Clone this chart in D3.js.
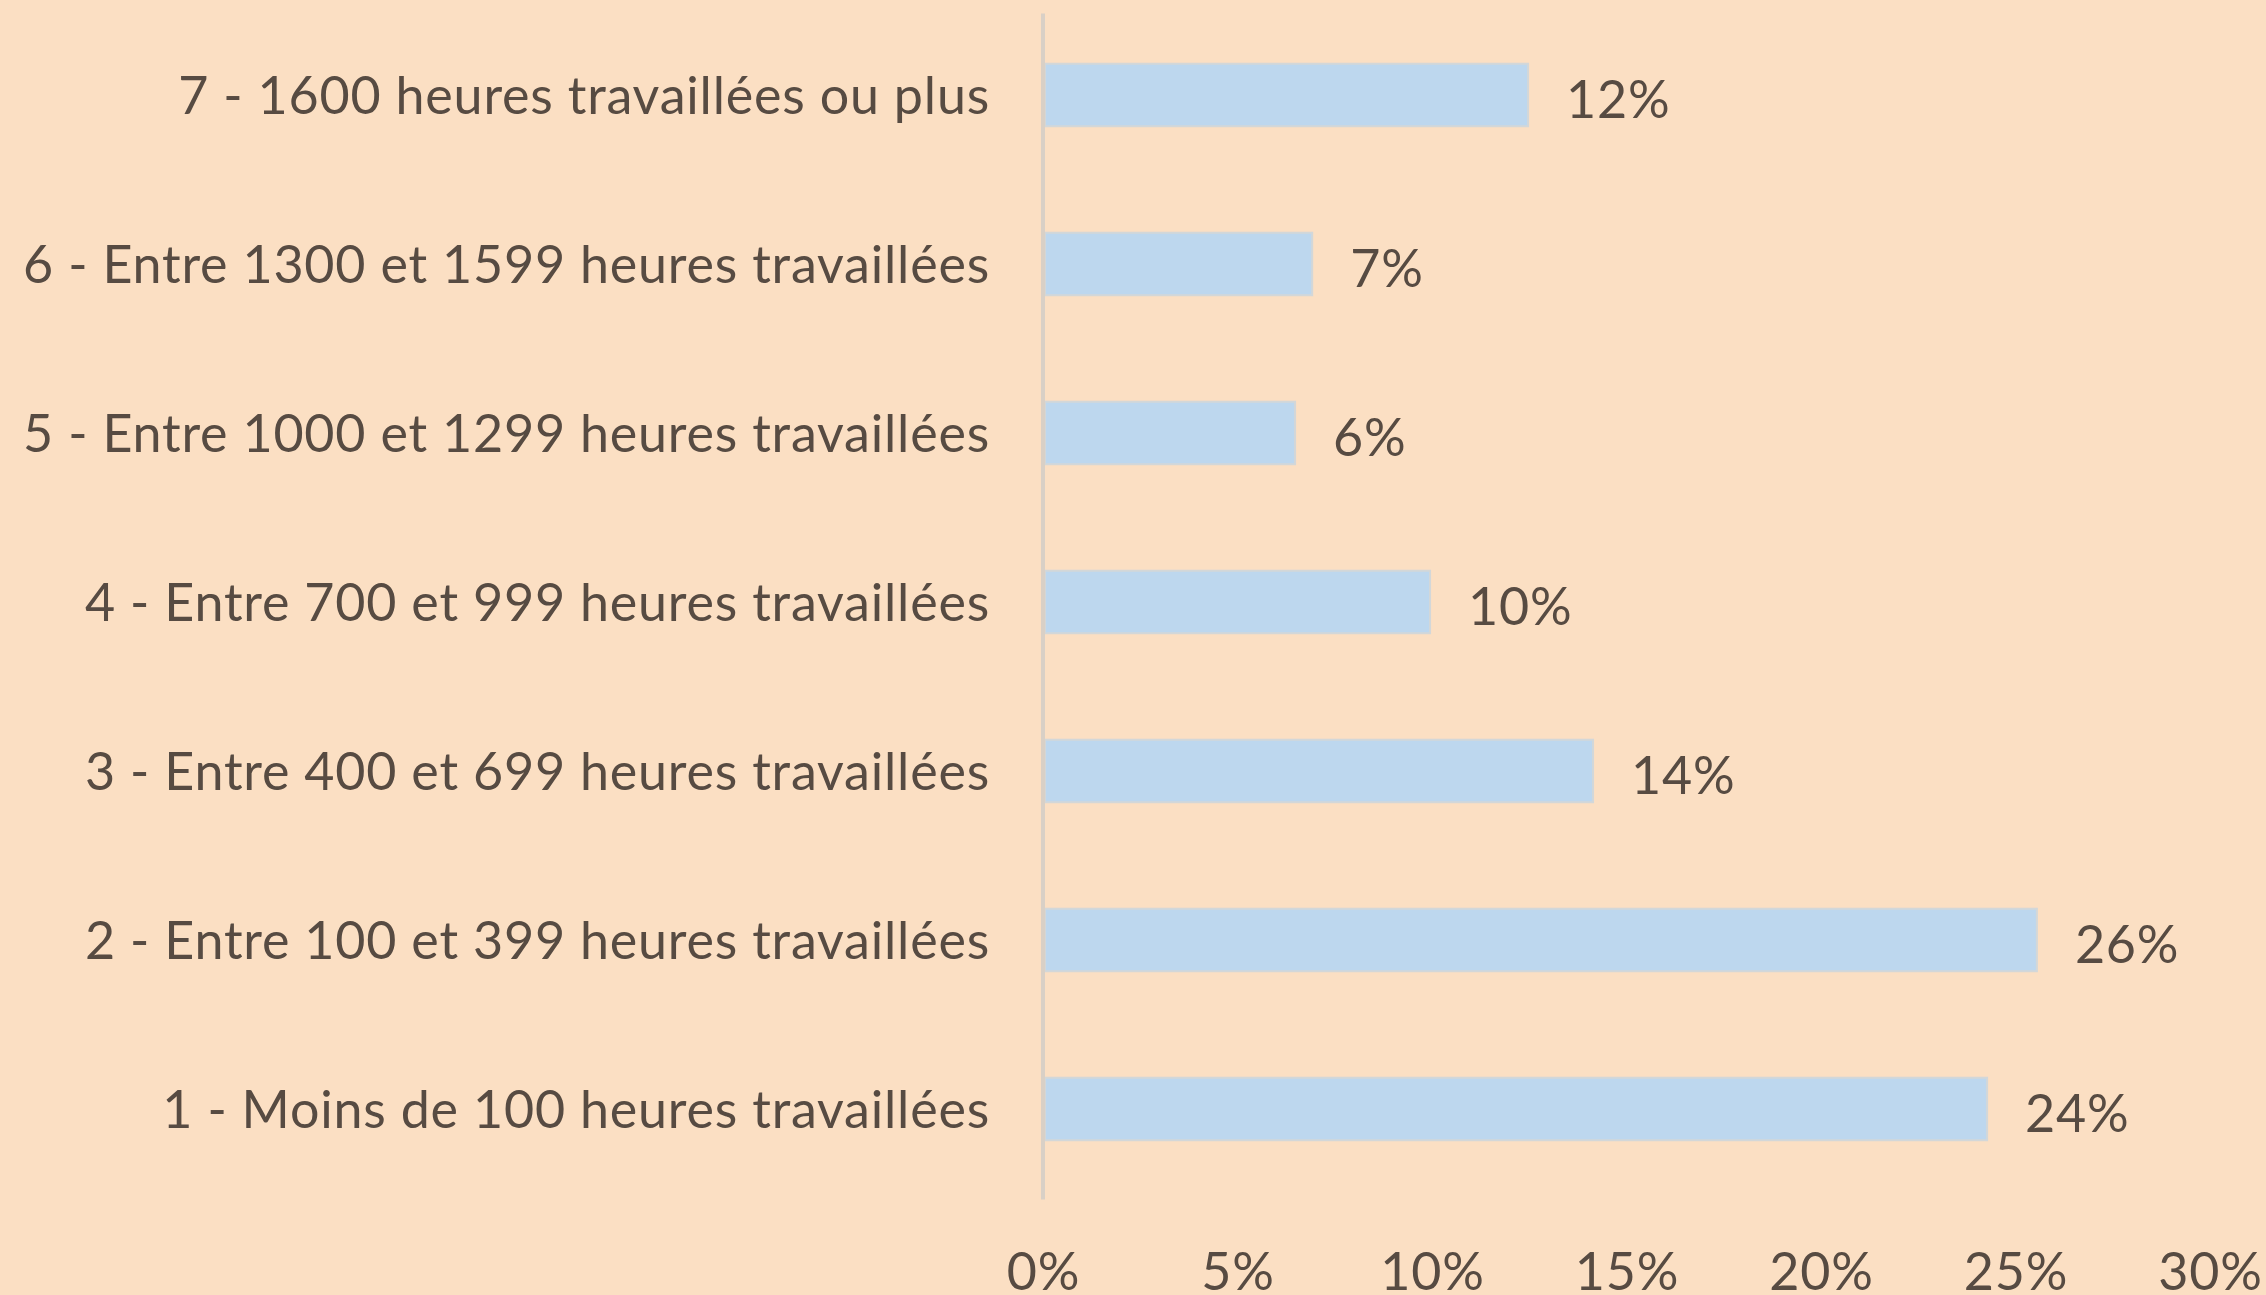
<!DOCTYPE html>
<html>
  <head>
    <meta charset="utf-8">
    <title>Heures travaillées</title>
    <script src="https://cdn.jsdelivr.net/npm/d3@7"></script>
    <style>
      body { margin: 0; background: #fbdfc3; }
      svg { display: block; }
      .label, .value, .axis text {
        font-family: Lato, 'Open Sans', sans-serif;
        fill: #574b42;
        letter-spacing: 0.8px;
      }
      .bars rect {
        fill: #bdd7ee;
        stroke: #d3d7d8;
        stroke-width: 2;
      }
      .axis path, .axis line { stroke: none; }
    </style>
  </head>
  <body>
    <script>

      var categories = [
        "7 - 1600 heures travaillées ou plus",
        "6 - Entre 1300 et 1599 heures travaillées",
        "5 - Entre 1000 et 1299 heures travaillées",
        "4 - Entre 700 et 999 heures travaillées",
        "3 - Entre 400 et 699 heures travaillées",
        "2 - Entre 100 et 399 heures travaillées",
        "1 - Moins de 100 heures travaillées"
      ];
      var shares = [0.1247, 0.0692, 0.0648, 0.0995, 0.1414, 0.2555, 0.2427];
      var tickValues = [0, 0.05, 0.10, 0.15, 0.20, 0.25, 0.30];

      var width = 2266;
      var height = 1295;
      var fontSize = 52;

      var svg = d3.select("body").append("svg")
        .attr("width", width)
        .attr("height", height);

      var xScale = d3.scaleLinear()
        .domain([0, 0.30])
        .range([1043, 2210]);

      var yScale = d3.scaleBand()
        .domain(categories)
        .range([10.5, 1193.5])
        .paddingInner(0.63)
        .paddingOuter(0.315);

      var data = categories.map(function(c, i) { return { cat: c, v: shares[i] }; });

      // category labels
      svg.append("g").selectAll("text")
        .data(data)
        .enter().append("text")
        .attr("class", "label")
        .attr("x", 990)
        .attr("y", function(d) { return yScale(d.cat) + yScale.bandwidth() / 2; })
        .attr("dy", "0.36em")
        .attr("text-anchor", "end")
        .style("font-size", fontSize + "px")
        .text(function(d) { return d.cat; });

      // bars
      svg.append("g").attr("class", "bars").selectAll("rect")
        .data(data)
        .enter().append("rect")
        .attr("x", xScale(0) + 2)
        .attr("y", function(d) { return yScale(d.cat); })
        .attr("height", yScale.bandwidth())
        .attr("width", function(d) { return xScale(d.v) - xScale(0) - 2; });

      // vertical axis line
      svg.append("line")
        .attr("x1", xScale(0)).attr("x2", xScale(0))
        .attr("y1", yScale.range()[0] + 3)
        .attr("y2", yScale.range()[1] + 6)
        .attr("stroke", "#d9d0c6")
        .attr("stroke-width", 4);

      // value labels
      var pct = d3.format(".0%");
      svg.append("g").selectAll("text")
        .data(data)
        .enter().append("text")
        .attr("class", "value")
        .attr("x", function(d) { return xScale(d.v) + 38; })
        .attr("y", function(d) { return yScale(d.cat) + yScale.bandwidth() / 2 + 4; })
        .attr("dy", "0.36em")
        .style("font-size", fontSize + "px")
        .text(function(d) { return pct(d.v); });

      // x axis tick labels
      var xAxis = d3.axisBottom(xScale)
        .tickValues(tickValues)
        .tickFormat(pct)
        .tickSize(0);

      var xAxisG = svg.append("g")
        .attr("class", "axis")
        .attr("transform", "translate(0,1290)")
        .call(xAxis);
      xAxisG.selectAll("text")
        .attr("y", 0)
        .attr("dy", 0)
        .style("font-size", fontSize + "px");

    </script>
  </body>
</html>
